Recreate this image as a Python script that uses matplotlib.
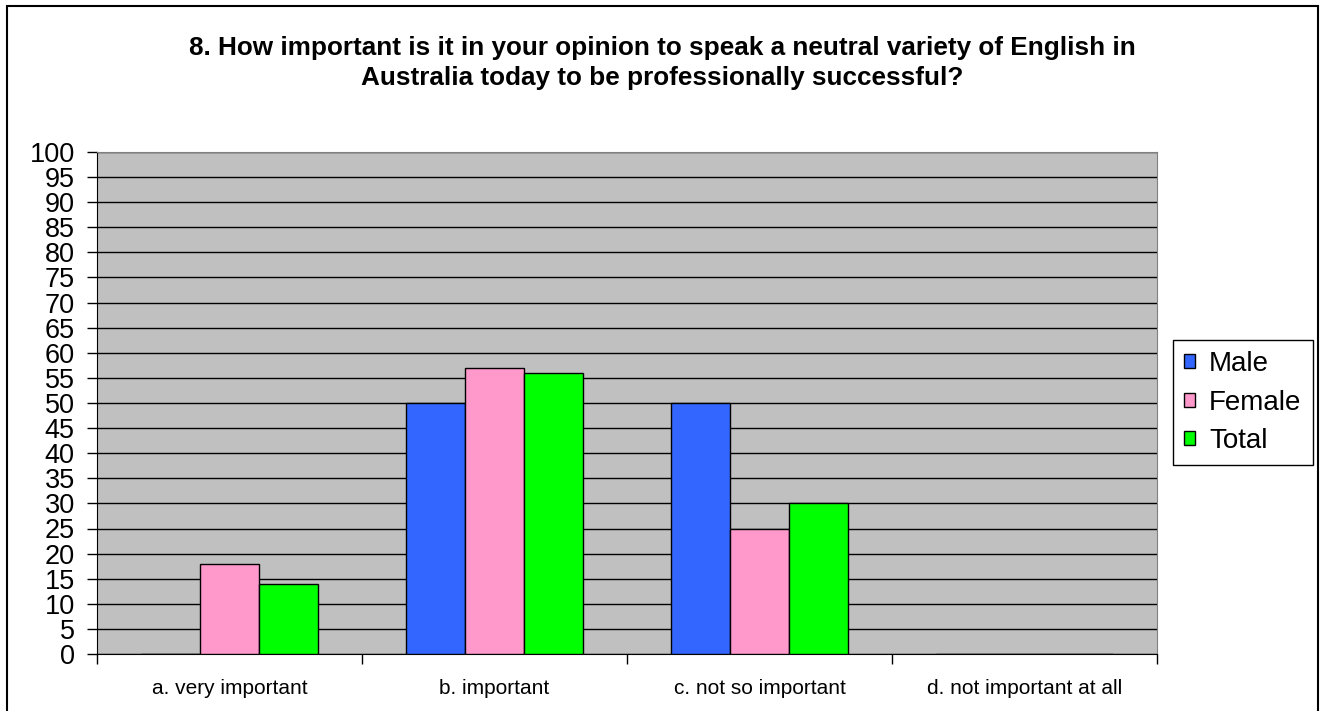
import matplotlib.pyplot as plt
import matplotlib.patches as mpatches
import numpy as np

# Survey answers, percent of respondents
categories = ['a. very important', 'b. important', 'c. not so important', 'd. not important at all']
male = [0, 50, 50, 0]
female = [18, 57, 25, 0]
total = [14, 56, 30, 0]
series_names = ['Male', 'Female', 'Total']
colors = ['#3366FF', '#FF99CC', '#00FF00']

plt.rcParams['font.family'] = ['Liberation Sans', 'DejaVu Sans']

fig = plt.figure(figsize=(13.24, 7.11), dpi=100)
ax = fig.add_axes([97 / 1324, 1 - 654 / 711, (1157 - 97) / 1324, (654 - 152) / 711])

# outer chart frame (bottom edge is cut off in the original)
fig.patches.append(mpatches.Rectangle((7 / 1324, -0.01), 1311 / 1324, 1 - 6 / 711 + 0.01,
                                      transform=fig.transFigure, fill=False,
                                      edgecolor='black', linewidth=1.5))

x = np.arange(len(categories))
width = 1 / 4.5
for i, (vals, name, col) in enumerate(zip([male, female, total], series_names, colors)):
    ax.bar(x + (i - 1) * width, vals, width, color=col, edgecolor='black',
           linewidth=1, label=name, zorder=3)

ax.set_facecolor('#C0C0C0')
ax.set_xlim(-0.5, len(categories) - 0.5)
ax.set_ylim(0, 100)
ax.set_yticks(range(0, 101, 5))
ax.yaxis.grid(True, color='black', linewidth=1, zorder=1)
ax.set_axisbelow(True)

ax.set_xticks(x)
ax.set_xticklabels(categories, fontsize=15)
ax.set_xticks(np.arange(-0.5, len(categories)), minor=True)
ax.tick_params(axis='x', which='major', length=0, pad=18)
ax.tick_params(axis='x', which='minor', length=7, direction='out', width=1)
ax.tick_params(axis='y', labelsize=19.5, length=7, width=1, pad=9)

for side in ['top', 'right']:
    ax.spines[side].set_color('#808080')
ax.spines['left'].set_color('black')
ax.spines['bottom'].set_color('black')

fig.text(0.5, 1 - 48 / 711,
         '8. How important is it in your opinion to speak a neutral variety of English in',
         fontsize=18.8, fontweight='bold', ha='center', va='center')
fig.text(0.5, 1 - 78 / 711, 'Australia today to be professionally successful?',
         fontsize=18.8, fontweight='bold', ha='center', va='center')

leg = ax.legend(loc='upper left', bbox_to_anchor=(1173 / 1324, 1 - 340 / 711),
                bbox_transform=fig.transFigure, fontsize=20,
                fancybox=False, edgecolor='black', framealpha=1,
                handlelength=0.4, handleheight=0.4, handletextpad=0.5,
                borderpad=0.4, labelspacing=0.45, borderaxespad=0)
leg.get_frame().set_linewidth(1)

plt.savefig('out.png', dpi=100)
